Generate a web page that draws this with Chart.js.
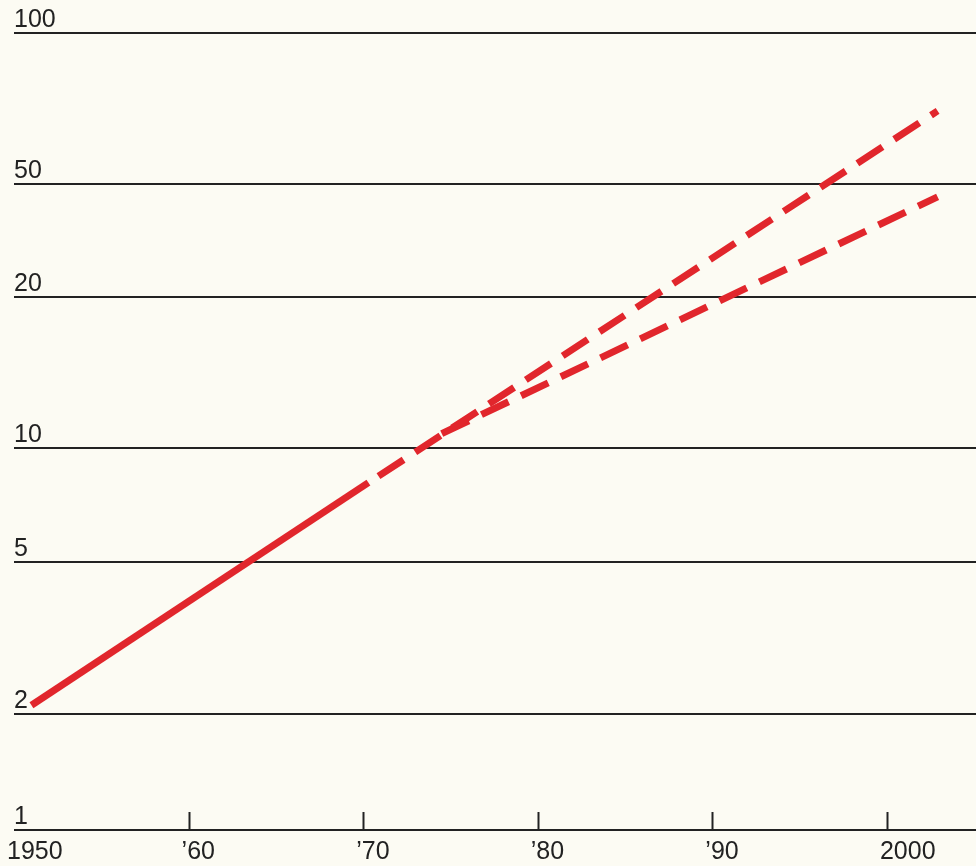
<!DOCTYPE html>
<html>
<head>
<meta charset="utf-8">
<script src="https://cdn.jsdelivr.net/npm/chart.js@4/dist/chart.umd.min.js"></script>
<style>
  html, body { margin: 0; padding: 0; background: #fcfbf3; }
  #wrap { width: 976px; height: 866px; }
</style>
</head>
<body>
<div id="wrap"><canvas id="growth"></canvas></div>
<script>
// values
const xTicks = [1950, 1960, 1970, 1980, 1990, 2000];
const yTicks = [1, 2, 5, 10, 20, 50, 100];

const solidYears = [1951, 1970.3];
const solidValues = [2.11, 8.12];

const highYears = [1970.3, 2002.9];
const highValues = [8.12, 69.9];

const lowYears = [1974.5, 2002.9];
const lowValues = [10.7, 45.0];

// the printed y axis is log-like but the gridline gaps are uneven
const gapWeights = [116, 152, 114, 152, 113, 151];
const gapTotal = gapWeights.reduce((a, b) => a + b, 0);

const LogBase = Chart.LogarithmicScale || Chart.registry.getScale('logarithmic');

class StretchedLogScale extends LogBase {
  static id = 'stretchedLog';
  static defaults = {};

  toDecimal(v) {
    let acc = 0;
    for (let i = 0; i < yTicks.length - 1; i++) {
      if (v <= yTicks[i + 1] || i === yTicks.length - 2) {
        const t = Math.log(v / yTicks[i]) / Math.log(yTicks[i + 1] / yTicks[i]);
        return (acc + t * gapWeights[i]) / gapTotal;
      }
      acc += gapWeights[i];
    }
  }

  getPixelForValue(v) {
    if (v === null || v === undefined || isNaN(v)) return NaN;
    return this.getPixelForDecimal(this.toDecimal(v));
  }

  getValueForPixel(p) {
    let d = this.getDecimalForPixel(p) * gapTotal;
    for (let i = 0; i < gapWeights.length; i++) {
      if (d <= gapWeights[i] || i === gapWeights.length - 1) {
        const t = d / gapWeights[i];
        return yTicks[i] * Math.pow(yTicks[i + 1] / yTicks[i], t);
      }
      d -= gapWeights[i];
    }
  }
}
Chart.register(StretchedLogScale);

function pts(xs, ys) {
  return xs.map((x, i) => ({ x: x, y: ys[i] }));
}

const red = '#e1262c';
const ink = '#222222';

// short upward tick marks on the base line
const upTicks = {
  id: 'upTicks',
  afterDatasetsDraw(chart) {
    const ctx = chart.ctx;
    const xs = chart.scales.x;
    const bottom = chart.chartArea.bottom;
    ctx.save();
    ctx.strokeStyle = ink;
    ctx.lineWidth = 2;
    xTicks.slice(1).forEach(v => {
      const px = Math.round(xs.getPixelForValue(v)) + 0.5;
      ctx.beginPath();
      ctx.moveTo(px, bottom);
      ctx.lineTo(px, bottom - 18);
      ctx.stroke();
    });
    ctx.restore();
  }
};

function chart() {
  const ctx = document.getElementById('growth');
  new Chart(ctx, {
    type: 'line',
    data: {
      datasets: [
        {
          data: pts(solidYears, solidValues),
          borderColor: red,
          borderWidth: 7,
          borderCapStyle: 'butt',
        },
        {
          data: pts(highYears, highValues),
          borderColor: red,
          borderWidth: 7,
          borderDash: [30, 14],
          borderDashOffset: -12,
          borderCapStyle: 'butt',
        },
        {
          data: pts(lowYears, lowValues),
          borderColor: red,
          borderWidth: 7,
          borderDash: [30, 14],
          borderCapStyle: 'butt',
        }
      ]
    },
    options: {
      responsive: true,
      maintainAspectRatio: false,
      animation: false,
      elements: { point: { radius: 0 }, line: { tension: 0 } },
      layout: { padding: { top: 33, left: 14, right: 0, bottom: -8 } },
      plugins: {
        legend: { display: false },
        tooltip: { enabled: false }
      },
      scales: {
        x: {
          type: 'linear',
          min: 1950,
          max: 2005.1,
          afterBuildTicks: s => { s.ticks = xTicks.map(v => ({ value: v })); },
          grid: { display: false, drawTicks: false },
          border: { display: false },
          ticks: {
            align: 'start',
            labelOffset: -7,
            padding: 7,
            color: ink,
            font: { family: 'Liberation Sans', size: 25 },
            callback: v => (v === 1950 || v === 2000) ? String(v) : '\u2019' + String(v).slice(2)
          }
        },
        y: {
          type: 'stretchedLog',
          min: 1,
          max: 100,
          afterBuildTicks: s => { s.ticks = yTicks.map(v => ({ value: v })); },
          grid: { color: ink, lineWidth: 2, drawTicks: false },
          border: { display: false },
          ticks: {
            mirror: true,
            padding: 0,
            labelOffset: -13,
            color: ink,
            font: { family: 'Liberation Sans', size: 25 },
            callback: v => String(v)
          }
        }
      }
    },
    plugins: [upTicks]
  });
}
chart();
</script>
</body>
</html>
